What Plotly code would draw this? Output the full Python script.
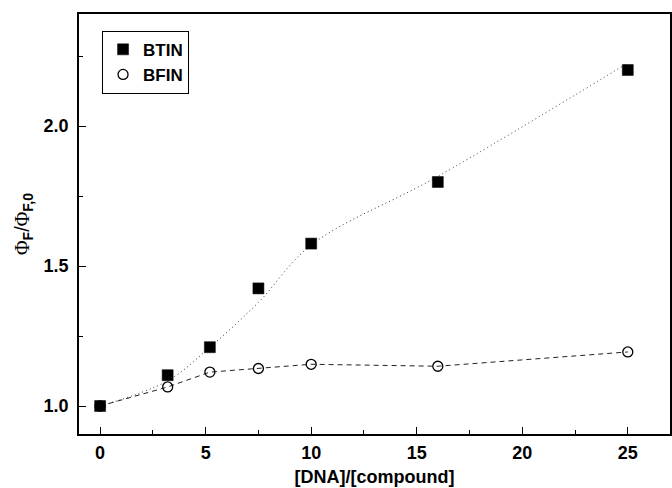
import plotly.graph_objects as go

# Data
ratio = [0, 3.2, 5.2, 7.5, 10, 16, 25]
btin = [1.00, 1.11, 1.21, 1.42, 1.58, 1.80, 2.20]
bfin = [1.00, 1.068, 1.121, 1.134, 1.149, 1.142, 1.193]
# dotted guide curve for BTIN
btin_fit_x = [0, 3.2, 5.2, 7.5, 10, 16, 25]
btin_fit_y = [1.00, 1.09, 1.21, 1.37, 1.575, 1.82, 2.225]

x_ticks = [0, 5, 10, 15, 20, 25]
x_labels = ["0", "5", "10", "15", "20", "25"]
y_ticks = [1.0, 1.5, 2.0]
y_labels = ["1.0", "1.5", "2.0"]

fig = go.Figure()

fig.add_trace(go.Scatter(
    x=btin_fit_x, y=btin_fit_y, mode="lines", line_shape="spline",
    line=dict(color="#333333", width=1, dash="1px,3px"), showlegend=False,
    hoverinfo="skip"))
fig.add_trace(go.Scatter(
    x=ratio, y=bfin, mode="lines",
    line=dict(color="#222222", width=1, dash="5px,4px"), showlegend=False,
    hoverinfo="skip"))
fig.add_trace(go.Scatter(
    x=ratio, y=btin, mode="markers", name="<b>BTIN</b>",
    marker=dict(symbol="square", size=11, color="black",
                line=dict(color="black", width=0.5))))
fig.add_trace(go.Scatter(
    x=ratio, y=bfin, mode="markers", name="<b>BFIN</b>",
    marker=dict(symbol="circle-open", size=10, color="black",
                line=dict(color="black", width=1.3))))

axis_common = dict(
    showline=True, linecolor="black", linewidth=1.5, mirror=True,
    ticks="inside", ticklen=7, tickwidth=1, tickcolor="black",
    showgrid=False, zeroline=False, automargin=False,
    tickfont=dict(family="Liberation Sans", size=18, color="black"),
)

fig.update_xaxes(
    range=[-1, 27], tickvals=x_ticks, ticktext=["<b>%s</b>" % t for t in x_labels],
    minor=dict(dtick=2.5, tick0=0, ticks="inside", ticklen=4, tickcolor="black"),
    ticklabelstandoff=2,
    title=dict(text="<b>[DNA]/[compound]</b>",
               font=dict(family="Liberation Sans", size=18, color="black"),
               standoff=8),
    **axis_common)
fig.update_yaxes(
    range=[0.9, 2.4], tickvals=y_ticks, ticktext=["<b>%s</b>" % t for t in y_labels],
    minor=dict(dtick=0.25, tick0=1.0, ticks="inside", ticklen=4, tickcolor="black"),
    ticklabelstandoff=5,
    title=dict(text="<span style='font-family:Liberation Serif'>Φ</span><sub><b>F</b></sub>/"
                    "<span style='font-family:Liberation Serif'>Φ</span><sub><b>F,0</b></sub>",
               font=dict(family="Liberation Sans", size=20, color="black"),
               standoff=9),
    **axis_common)

fig.update_layout(
    width=672, height=488,
    margin=dict(l=79, r=2, t=14, b=54),
    paper_bgcolor="white", plot_bgcolor="white",
    legend=dict(x=0.039, y=0.96, xanchor="left", yanchor="top",
                bordercolor="black", borderwidth=1, bgcolor="white",
                font=dict(family="Liberation Sans", size=17, color="black"),
                itemwidth=30, tracegroupgap=0),
)

fig.write_html("out.html", config={"displayModeBar": False},
               post_script="document.body.style.margin='0';document.body.style.overflow='hidden';")
